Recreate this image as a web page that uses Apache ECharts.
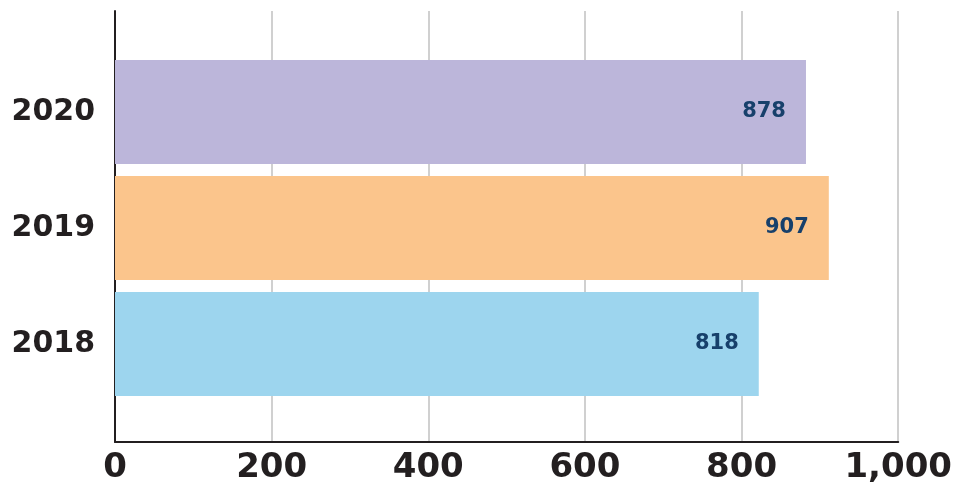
<!DOCTYPE html>
<html><head><meta charset="utf-8">
<script src="https://cdn.jsdelivr.net/npm/echarts@6/dist/echarts.min.js"></script>
<style>html,body{margin:0;padding:0;background:#fff}#c{width:955px;height:485px}</style>
</head><body><div id="c"></div>
<script>
const categories = ['2018', '2019', '2020'];
const values = [818, 907, 878];
const barColors = ['#9dd5ee', '#fbc58c', '#bcb6da'];
const xTicks = [0, 200, 400, 600, 800, 1000];

const font = 'DejaVu Sans';
const chart = echarts.init(document.getElementById('c'));
chart.setOption({
  animation: false,
  grid: [
    {left: 115, right: 53, top: 11, bottom: 39},
    {left: 115, right: 53, top: 54, bottom: 83}
  ],
  xAxis: [
    {gridIndex: 0, type: 'value', min: xTicks[0], max: xTicks[xTicks.length-1], interval: 200,
     axisLine: {show: true, lineStyle: {color: '#231f20', width: 2}},
     axisTick: {show: false},
     splitLine: {show: true, lineStyle: {color: '#d0d0d0', width: 2}},
     axisLabel: {fontFamily: font, fontWeight: 'bold', fontSize: 34, color: '#231f20', margin: 9,
       formatter: v => v.toLocaleString('en-US')}},
    {gridIndex: 1, type: 'value', min: 0, max: 1000, show: false}
  ],
  yAxis: [
    {gridIndex: 0, type: 'value', min: 0, max: 1,
     axisLine: {show: true, onZero: false, lineStyle: {color: '#231f20', width: 2}},
     axisTick: {show: false}, axisLabel: {show: false}, splitLine: {show: false}},
    {gridIndex: 1, type: 'category', data: categories,
     axisLine: {show: false}, axisTick: {show: false}, splitLine: {show: false},
     axisLabel: {fontFamily: font, fontWeight: 'bold', fontSize: 30, color: '#231f20', margin: 20}}
  ],
  series: [{
    type: 'bar', xAxisIndex: 1, yAxisIndex: 1, barWidth: 104,
    data: values.map((v, i) => ({value: v, itemStyle: {color: barColors[i]}})),
    label: {show: true, position: 'insideRight', distance: 20,
      fontFamily: font, fontWeight: 'bold', fontSize: 21, color: '#17406b'}
  }]
});
</script></body></html>
